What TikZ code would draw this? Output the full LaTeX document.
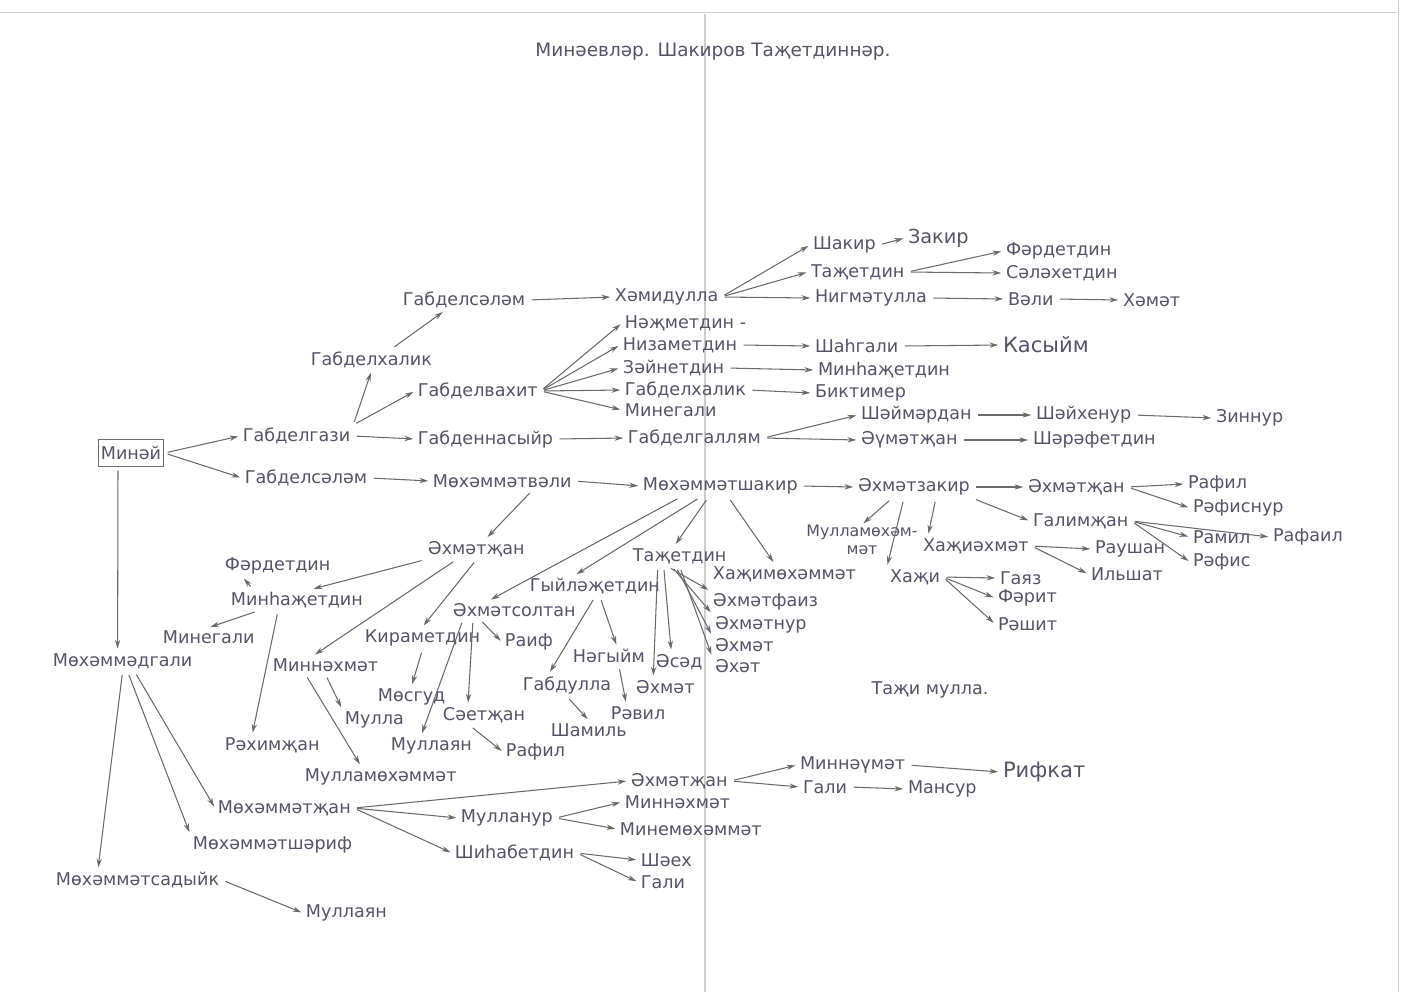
\documentclass[tikz,border=0pt]{standalone}
\usepackage{fontspec}
\setmainfont{DejaVu Sans}
\usepackage{tikz}
\usetikzlibrary{arrows.meta,calc}
\definecolor{ink}{RGB}{84,84,102}
\definecolor{pen}{RGB}{105,105,112}
\definecolor{fold}{RGB}{205,205,205}
\tikzset{
  person/.style={font=\fontsize{10}{12}\selectfont, text=ink, inner sep=1.5pt, anchor=west},
  kid/.style={draw=pen, line width=0.6pt, -{Stealth[length=5pt,width=3pt]}, shorten >=1pt, shorten <=2pt},
}

\begin{document}
\begin{tikzpicture}[x=0.02cm, y=-0.02cm]
    \useasboundingbox (0,0) rectangle (1408,992);
    % paper edges and fold
    \draw[fold, line width=0.5pt] (0,12) -- (1396,12);
    \draw[fold, line width=0.5pt] (1398,0) -- (1398,992);
    \draw[fold, line width=1pt] (705,14) -- (705,992);

    \node[person, anchor=center, font=\fontsize{10.5}{12}\selectfont] (title) at (713,52) {Минәевләр. Шакиров Таҗетдиннәр.};
    \node[person, anchor=center] (tazhi) at (930,690) {Таҗи мулла.};

    % root
    \node[person, anchor=center, draw=pen, line width=0.6pt, minimum width=1.24cm, minimum height=0.54cm] (minay) at (131,453) {Минәй};
    \node[person] (gazi) at (240,436) {Габделгази};
    \node[person] (salam1) at (242,478) {Габделсәләм};
    \node[person] (mdgali) at (50,661) {Мөхәммәдгали};

    % upper branch
    \node[person] (xalik) at (308,360) {Габделхалик};
    \node[person] (vaxit) at (415,391) {Габделвахит};
    \node[person] (nasyir) at (415,439) {Габденнасыйр};
    \node[person] (salam2) at (400,300) {Габделсәләм};
    \node[person] (xamid) at (612,297) {Хәмидулла};
    \node[person] (shakir) at (810,245) {Шакир};
    \node[person, font=\fontsize{11}{13}\selectfont] (zakir) at (905,238) {Закир};
    \node[person] (tazh1) at (808,272) {Таҗетдин};
    \node[person] (nigmat) at (812,298) {Нигмәтулла};
    \node[person] (fard1) at (1003,251) {Фәрдетдин};
    \node[person] (salax) at (1003,273) {Сәләхетдин};
    \node[person] (vali) at (1005,299) {Вәли};
    \node[person] (xamat) at (1120,300) {Хәмәт};
    \node[person] (nazh) at (622,323) {Нәҗметдин -};
    \node[person] (nizam) at (620,345) {Низаметдин};
    \node[person] (zain) at (620,368) {Зәйнетдин};
    \node[person] (xalik2) at (622,390) {Габделхалик};
    \node[person] (minegali1) at (622,410) {Минегали};
    \node[person] (shahgali) at (812,346) {Шаһгали};
    \node[person, font=\fontsize{12}{14}\selectfont] (kasyim) at (1000,345) {Касыйм};
    \node[person] (minhazh1) at (815,370) {Минһаҗетдин};
    \node[person] (biktimer) at (812,393) {Биктимер};
    \node[person] (galam) at (625,438) {Габделгаллям};
    \node[person] (shaimardan) at (858,415) {Шәймәрдан};
    \node[person] (aumatzhan) at (858,440) {Әүмәтҗан};
    \node[person] (shaixenur) at (1033,415) {Шәйхенур};
    \node[person] (zinnur) at (1213,418) {Зиннур};
    \node[person] (sharaf) at (1030,440) {Шәрәфетдин};

    % middle branch
    \node[person] (mvali) at (430,481) {Мөхәммәтвәли};
    \node[person] (mshakir) at (640,486) {Мөхәммәтшакир};
    \node[person] (azakir) at (855,487) {Әхмәтзакир};
    \node[person] (azhan1) at (1025,487) {Әхмәтҗан};
    \node[person] (rafil1) at (1185,484) {Рафил};
    \node[person] (rafisnur) at (1190,508) {Рәфиснур};
    \node[person] (galimzhan) at (1030,521) {Галимҗан};
    \node[person] (ramil) at (1190,537) {Рамил};
    \node[person] (rafail) at (1270,537) {Рафаил};
    \node[person] (rafis) at (1190,562) {Рәфис};
    \node[person, anchor=center, align=center, inner sep=0pt, font=\fontsize{9}{10.5}\selectfont] (mullam) at (862,540) {Мулламөхәм-\\мәт};
    \node[person] (xazhi) at (887,577) {Хаҗи};
    \node[person] (xazhiaxmat) at (920,546) {Хаҗиәхмәт};
    \node[person] (raushan) at (1092,549) {Раушан};
    \node[person] (ilshat) at (1088,574) {Ильшат};
    \node[person] (gayaz) at (997,578) {Гаяз};
    \node[person] (farit) at (995,598) {Фәрит};
    \node[person] (rashit) at (995,624) {Рәшит};

    \node[person] (azhan2) at (425,549) {Әхмәтҗан};
    \node[person] (asoltan) at (450,610) {Әхмәтсолтан};
    \node[person] (gyilazh) at (527,586) {Гыйләҗетдин};
    \node[person] (tazh2) at (630,556) {Таҗетдин};
    \node[person] (xazhimux) at (710,574) {Хаҗимөхәммәт};
    \node[person] (minhazh2) at (228,600) {Минһаҗетдин};
    \node[person] (minnaxmat1) at (270,665) {Миннәхмәт};
    \node[person] (kiram) at (362,638) {Кираметдин};
    \node[person] (fard2) at (222,566) {Фәрдетдин};
    \node[person] (minegali2) at (160,637) {Минегали};
    \node[person] (raximzhan) at (222,745) {Рәхимҗан};
    \node[person] (mulla) at (342,720) {Мулла};
    \node[person] (mullamux) at (302,777) {Мулламөхәммәт};
    \node[person] (masgud) at (375,697) {Мөсгуд};
    \node[person] (raif) at (502,642) {Раиф};
    \node[person] (saetzhan) at (440,715) {Сәетҗан};
    \node[person] (mullayan1) at (388,746) {Муллаян};
    \node[person] (rafil2) at (503,752) {Рафил};
    \node[person] (gabdulla) at (520,685) {Габдулла};
    \node[person] (nagyim) at (570,656) {Нәгыйм};
    \node[person] (shamil) at (548,730) {Шамиль};
    \node[person] (ravil) at (608,713) {Рәвил};
    \node[person] (axmat1) at (633,687) {Әхмәт};
    \node[person] (asad) at (653,662) {Әсәд};
    \node[person] (afaiz) at (710,602) {Әхмәтфаиз};
    \node[person] (anur) at (712,625) {Әхмәтнур};
    \node[person] (axmat2) at (712,645) {Әхмәт};
    \node[person] (axat) at (712,666) {Әхәт};

    % lower branch
    \node[person] (msadyik) at (53,880) {Мөхәммәтсадыйк};
    \node[person] (msharif) at (190,845) {Мөхәммәтшәриф};
    \node[person] (mzhan) at (215,808) {Мөхәммәтҗан};
    \node[person] (mullayan2) at (303,913) {Муллаян};
    \node[person] (azhan3) at (628,781) {Әхмәтҗан};
    \node[person] (mullanur) at (458,818) {Мулланур};
    \node[person] (shihab) at (452,853) {Шиһабетдин};
    \node[person] (minnaumat) at (797,765) {Миннәүмәт};
    \node[person] (gali1) at (800,787) {Гали};
    \node[person] (mansur) at (905,789) {Мансур};
    \node[person, font=\fontsize{12}{14}\selectfont] (rifkat) at (1000,772) {Рифкат};
    \node[person] (minnaxmat2) at (622,802) {Миннәхмәт};
    \node[person] (minemux) at (617,829) {Минемөхәммәт};
    \node[person] (shaex) at (638,860) {Шәех};
    \node[person] (gali2) at (638,882) {Гали};

    % arrows from the root
    \draw[kid] (minay.east) -- (gazi.west);
    \draw[kid] (minay.east) -- (salam1.west);
    \draw[kid] ($(minay.south)+(-13,0)$) -- ($(mdgali.north)+(-5,0)$);

    % upper branch
    \draw[kid] (gazi.north east) -- (xalik.south);
    \draw[kid] (gazi.north east) -- (vaxit.west);
    \draw[kid] (gazi.east) -- (nasyir.west);
    \draw[kid] ($(xalik.north)+(20,0)$) -- ($(salam2.south)+(-20,0)$);
    \draw[kid] (salam2.east) -- (xamid.west);
    \draw[kid] (xamid.east) -- (shakir.west);
    \draw[kid] (xamid.east) -- (tazh1.west);
    \draw[kid] (xamid.east) -- (nigmat.west);
    \draw[kid] (shakir.east) -- (zakir.west);
    \draw[kid] (tazh1.east) -- (fard1.west);
    \draw[kid] (tazh1.east) -- (salax.west);
    \draw[kid] (nigmat.east) -- (vali.west);
    \draw[kid] (vali.east) -- (xamat.west);
    \draw[kid] (vaxit.east) -- (nazh.west);
    \draw[kid] (vaxit.east) -- (nizam.west);
    \draw[kid] (vaxit.east) -- (zain.west);
    \draw[kid] (vaxit.east) -- (xalik2.west);
    \draw[kid] (vaxit.east) -- (minegali1.west);
    \draw[kid] (nizam.east) -- (shahgali.west);
    \draw[kid] (shahgali.east) -- (kasyim.west);
    \draw[kid] (zain.east) -- (minhazh1.west);
    \draw[kid] (xalik2.east) -- (biktimer.west);
    \draw[kid] (nasyir.east) -- (galam.west);
    \draw[kid] (galam.east) -- (shaimardan.west);
    \draw[kid] (galam.east) -- (aumatzhan.west);
    \draw[kid] (shaimardan.east) -- (shaixenur.west);
    \draw[kid] (shaixenur.east) -- (zinnur.west);
    \draw[kid] (aumatzhan.east) -- (sharaf.west);

    % middle branch
    \draw[kid] (salam1.east) -- (mvali.west);
    \draw[kid] (mvali.east) -- (mshakir.west);
    \draw[kid] (mshakir.east) -- (azakir.west);
    \draw[kid] (azakir.east) -- (azhan1.west);
    \draw[kid] (azhan1.east) -- (rafil1.west);
    \draw[kid] (azhan1.east) -- (rafisnur.west);
    \draw[kid] (azakir.south east) -- (galimzhan.west);
    \draw[kid] (galimzhan.east) -- (ramil.west);
    \draw[kid] (galimzhan.east) -- (rafail.west);
    \draw[kid] (galimzhan.east) -- (rafis.west);
    \draw[kid] ($(azakir.south)+(-22,0)$) -- (mullam.north);
    \draw[kid] ($(azakir.south)+(-10,0)$) -- (xazhi.north west);
    \draw[kid] ($(azakir.south)+(22,0)$) -- ($(xazhiaxmat.north west)+(8,0)$);
    \draw[kid] (xazhiaxmat.east) -- (raushan.west);
    \draw[kid] (xazhiaxmat.east) -- (ilshat.west);
    \draw[kid] (xazhi.east) -- (gayaz.west);
    \draw[kid] (xazhi.east) -- (farit.west);
    \draw[kid] (xazhi.east) -- (rashit.west);

    \draw[kid] ($(mvali.south)+(30,0)$) -- ($(azhan2.north)+(10,0)$);
    \draw[kid] ($(mshakir.south)+(-40,0)$) -- ($(asoltan.north)+(-25,0)$);
    \draw[kid] ($(mshakir.south)+(-20,0)$) -- ($(gyilazh.north)+(-20,0)$);
    \draw[kid] ($(mshakir.south)+(-12,0)$) -- ($(tazh2.north)+(-5,0)$);
    \draw[kid] ($(mshakir.south)+(8,0)$) -- ($(xazhimux.north)+(-10,0)$);

    \draw[kid] (azhan2.south west) -- ($(minhazh2.north)+(15,0)$);
    \draw[kid] ($(azhan2.south)+(-20,0)$) -- ($(minnaxmat1.north)+(-12,0)$);
    \draw[kid] (azhan2.south) -- (kiram.north);
    \draw[kid] ($(minhazh2.north west)+(25,0)$) -- ($(fard2.south)+(-35,0)$);
    \draw[kid] ($(minhazh2.south west)+(30,0)$) -- (minegali2.north);
    \draw[kid] ($(minhazh2.south west)+(50,0)$) -- ($(raximzhan.north)+(-20,0)$);
    \draw[kid] (minnaxmat1.south) -- (mulla.north west);
    \draw[kid] ($(minnaxmat1.south)+(-20,0)$) -- ($(mullamux.north)+(-20,0)$);
    \draw[kid] (kiram.south) -- (masgud.north);
    \draw[kid] ($(asoltan.south west)+(30,0)$) -- (raif.west);
    \draw[kid] ($(asoltan.south west)+(23,0)$) -- ($(saetzhan.north west)+(28,0)$);
    \draw[kid] ($(asoltan.south west)+(13,0)$) -- ($(mullayan1.north)+(-10,0)$);
    \draw[kid] ($(saetzhan.south west)+(30,0)$) -- (rafil2.west);
    \draw[kid] (gyilazh.south) -- ($(gabdulla.north)+(-18,0)$);
    \draw[kid] ($(gyilazh.south)+(5,0)$) -- ($(nagyim.north)+(8,0)$);
    \draw[kid] (gabdulla.south) -- (shamil.north);
    \draw[kid] ($(nagyim.south)+(10,0)$) -- ($(ravil.north)+(-12,0)$);
    \draw[kid] ($(tazh2.south)+(-22,0)$) -- ($(axmat1.north)+(-12,0)$);
    \draw[kid] ($(tazh2.south)+(-16,0)$) -- ($(asad.north)+(-8,0)$);
    \draw[kid] ($(tazh2.south)+(-12,0)$) -- (afaiz.north west);
    \draw[kid] ($(tazh2.south)+(-8,0)$) -- (anur.north west);
    \draw[kid] ($(tazh2.south)+(-4,0)$) -- (axmat2.north west);
    \draw[kid] (tazh2.south) -- (axat.north west);

    % lower branch
    \draw[kid] (mdgali.south) -- ($(msadyik.north west)+(45,0)$);
    \draw[kid] ($(mdgali.south)+(5,0)$) -- (msharif.north west);
    \draw[kid] ($(mdgali.south)+(12,0)$) -- (mzhan.west);
    \draw[kid] (msadyik.east) -- (mullayan2.west);
    \draw[kid] (mzhan.east) -- (azhan3.west);
    \draw[kid] (mzhan.east) -- (mullanur.west);
    \draw[kid] (mzhan.east) -- (shihab.west);
    \draw[kid] (azhan3.east) -- (minnaumat.west);
    \draw[kid] (azhan3.east) -- (gali1.west);
    \draw[kid] (minnaumat.east) -- (rifkat.west);
    \draw[kid] (gali1.east) -- (mansur.west);
    \draw[kid] (mullanur.east) -- (minnaxmat2.west);
    \draw[kid] (mullanur.east) -- (minemux.west);
    \draw[kid] (shihab.east) -- (shaex.west);
    \draw[kid] (shihab.east) -- (gali2.west);
\end{tikzpicture}
\end{document}
